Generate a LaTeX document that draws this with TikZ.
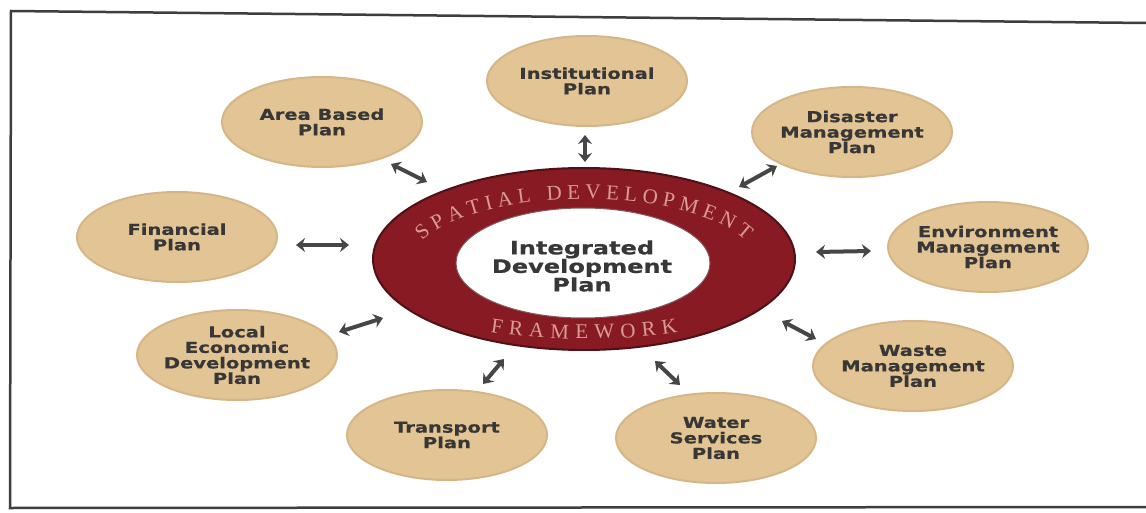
\documentclass[tikz,border=0pt]{standalone}
\usepackage{fontspec}
\usetikzlibrary{shapes.geometric,arrows.meta,decorations.text}
\newfontfamily\lblfont{DejaVu Sans}[FakeStretch=1.3,FakeBold=0.6]
\newfontfamily\ringfont{Liberation Serif}
\definecolor{planfill}{RGB}{227,196,148}
\definecolor{planedge}{RGB}{214,182,134}
\definecolor{ringred}{RGB}{136,26,36}
\definecolor{ringedge}{RGB}{78,18,22}
\definecolor{ringtxt}{RGB}{216,156,146}
\definecolor{ink}{RGB}{55,55,55}
\definecolor{arrowgray}{RGB}{70,70,70}
\definecolor{framegray}{RGB}{62,62,62}
\begin{document}
\begin{tikzpicture}[x=1pt,y=1pt,
  plan/.style={ellipse, fill=planfill, draw=planedge, line width=2pt,
    minimum width=200pt, minimum height=90pt, inner sep=0pt},
  lbl/.style={font=\lblfont\bfseries\fontsize{15}{15.5}\selectfont,
    text=ink, align=center, inner sep=0pt},
  ctext/.style={font=\lblfont\bfseries\fontsize{18.5}{18.5}\selectfont,
    text=ink, align=center, inner sep=0pt},
  link/.style={draw=arrowgray, line width=4pt,
    {Stealth[length=9pt,width=14pt]}-{Stealth[length=9pt,width=14pt]}},
  ringword/.style={decorate, decoration={text along path, text align={fit to path},
    text={|\ringfont\fontsize{21}{21}\selectfont\color{ringtxt}|#1}}},
]
% page and frame
\useasboundingbox (0,0) rectangle (1146,-513);
\fill[white] (0,0) rectangle (1146,-513);
\draw[framegray, line width=2.5pt] (1146,-23) -- (11,-11) -- (10,-508) -- (1146,-507);

% central ring
\node[ellipse, fill=ringred, draw=ringedge, line width=2pt, inner sep=0pt,
  minimum width=422pt, minimum height=182pt] (ring) at (584,-259) {};
\node[ellipse, fill=white, draw=ringedge!70, line width=1pt, inner sep=0pt,
  minimum width=254pt, minimum height=110pt] (core) at (583,-263) {};
\node[ctext] (idp) at (582,-266) {Integrated\\Development\\Plan};

% lettering around the ring
\path[ringword={SPATIAL DEVELOPMENT}]
  (584,-263) ++(160:172 and 64) arc[start angle=160, end angle=20, x radius=172, y radius=64];
\path[ringword={FRAMEWORK}]
  (584,-259) ++(246:230 and 80) arc[start angle=246, end angle=294, x radius=230, y radius=80];

% surrounding plans
\node[plan, label={[lbl]center:{Institutional\\Plan}}] (inst) at (587,-81) {};
\node[plan, label={[lbl]center:{Area Based\\Plan}}] (area) at (322,-122) {};
\node[plan, label={[lbl]center:{Disaster\\Management\\Plan}}] (dis) at (852,-132) {};
\node[plan, label={[lbl]center:{Financial\\Plan}}] (fin) at (177,-237) {};
\node[plan, label={[lbl]center:{Environment\\Management\\Plan}}] (env) at (988,-247) {};
\node[plan, label={[lbl]center:{Local\\Economic\\Development\\Plan}}] (led) at (237,-355) {};
\node[plan, label={[lbl]center:{Waste\\Management\\Plan}}] (waste) at (913,-366) {};
\node[plan, label={[lbl]center:{Transport\\Plan}}] (trans) at (447,-435) {};
\node[plan, label={[lbl]center:{Water\\Services\\Plan}}] (water) at (716,-438) {};

% arrow ends
\coordinate (inst-a) at (585,-135);  \coordinate (inst-b) at (585,-162);
\coordinate (area-a) at (391,-164);  \coordinate (area-b) at (427,-182);
\coordinate (dis-a) at (777,-166);   \coordinate (dis-b) at (739,-187);
\coordinate (fin-a) at (296,-245);   \coordinate (fin-b) at (349,-245);
\coordinate (env-a) at (871,-251);   \coordinate (env-b) at (816,-252);
\coordinate (led-a) at (339,-332);   \coordinate (led-b) at (383,-318);
\coordinate (waste-a) at (816,-339); \coordinate (waste-b) at (782,-321);
\coordinate (trans-a) at (483,-384); \coordinate (trans-b) at (504,-359);
\coordinate (water-a) at (680,-385); \coordinate (water-b) at (655,-361);

% two-way links between each plan and the framework
\foreach \p in {inst,area,dis,fin,env,led,waste,trans,water}
  \draw[link] (\p-a) -- (\p-b);
\end{tikzpicture}
\end{document}
